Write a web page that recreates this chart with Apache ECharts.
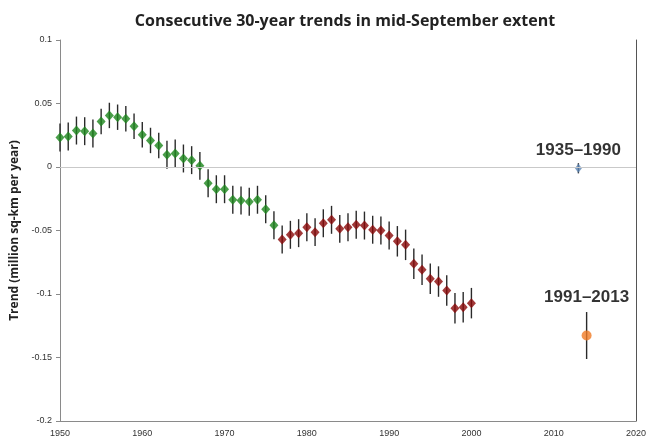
<!DOCTYPE html>
<html>
<head>
<meta charset="utf-8">
<style>
  html, body { margin: 0; padding: 0; background: #fff; }
  #chart { width: 649px; height: 441px; }
</style>
<script src="https://cdn.jsdelivr.net/npm/echarts@6/dist/echarts.min.js"></script>
</head>
<body>
<div id="chart"></div>
<script>
// Start year of each 30-year window and its linear trend (million sq-km per year)
const greenYears = [1950, 1951, 1952, 1953, 1954, 1955, 1956, 1957, 1958, 1959,
                    1960, 1961, 1962, 1963, 1964, 1965, 1966, 1967, 1968, 1969,
                    1970, 1971, 1972, 1973, 1974, 1975, 1976];
const greenTrend = [0.0232, 0.0240, 0.0287, 0.0282, 0.0264, 0.0358, 0.0406, 0.0392, 0.0380, 0.0321,
                    0.0254, 0.0209, 0.0169, 0.0096, 0.0106, 0.0067, 0.0054, 0.0009, -0.0128, -0.0175,
                    -0.0175, -0.0258, -0.0264, -0.0274, -0.0258, -0.0332, -0.0458];
const greenErr   = [0.011, 0.011, 0.011, 0.011, 0.011, 0.010, 0.010, 0.010, 0.010, 0.010,
                    0.010, 0.010, 0.010, 0.011, 0.011, 0.011, 0.011, 0.011, 0.011, 0.011,
                    0.011, 0.011, 0.011, 0.011, 0.011, 0.011, 0.011];

const redYears = [1977, 1978, 1979, 1980, 1981, 1982, 1983, 1984, 1985, 1986,
                  1987, 1988, 1989, 1990, 1991, 1992, 1993, 1994, 1995, 1996,
                  1997, 1998, 1999, 2000];
const redTrend = [-0.0571, -0.0534, -0.0521, -0.0474, -0.0513, -0.0443, -0.0416, -0.0487, -0.0474, -0.0455,
                  -0.0461, -0.0494, -0.0500, -0.0539, -0.0585, -0.0613, -0.0762, -0.0809, -0.0880, -0.0902,
                  -0.0972, -0.1112, -0.1104, -0.1072];
const redErr   = [0.011, 0.011, 0.011, 0.011, 0.011, 0.011, 0.011, 0.011, 0.011, 0.011,
                  0.011, 0.011, 0.011, 0.011, 0.012, 0.012, 0.012, 0.012, 0.012, 0.012,
                  0.012, 0.012, 0.012, 0.012];

// Reference periods
const earlyPeriod = { name: '1935–1990', year: 2013, trend: -0.001, err: 0.004 };
const latePeriod  = { name: '1991–2013', year: 2014, trend: -0.1327, err: 0.0185 };

const xTicks = { min: 1950, max: 2020, step: 10 };
const yTicks = { min: -0.2, max: 0.1, step: 0.05 };

function errorRows(years, trend, err) {
  return years.map((y, i) => [y, trend[i] - err[i], trend[i] + err[i]]);
}
function pointRows(years, trend) {
  return years.map((y, i) => [y, trend[i]]);
}

const errorData = []
  .concat(errorRows(greenYears, greenTrend, greenErr))
  .concat(errorRows(redYears, redTrend, redErr))
  .concat(errorRows([earlyPeriod.year], [earlyPeriod.trend], [earlyPeriod.err]))
  .concat(errorRows([latePeriod.year], [latePeriod.trend], [latePeriod.err]));

function renderErrorBar(params, api) {
  const lo = api.coord([api.value(0), api.value(1)]);
  const hi = api.coord([api.value(0), api.value(2)]);
  return {
    type: 'line',
    shape: { x1: lo[0], y1: lo[1], x2: hi[0], y2: hi[1] },
    style: { stroke: '#2a2a2a', lineWidth: 1.4 }
  };
}

const chart = echarts.init(document.getElementById('chart'), null, { renderer: 'canvas' });

const periodLabel = {
  show: true,
  formatter: p => p.data.name,
  fontFamily: 'Liberation Sans, Arial, sans-serif',
  fontWeight: 'bold',
  fontSize: 17,
  color: '#000'
};

chart.setOption({
  animation: false,
  backgroundColor: '#ffffff',
  title: {
    text: 'Consecutive 30-year trends in mid-September extent',
    left: 340,
    textAlign: 'center',
    top: 8,
    textStyle: {
      fontFamily: 'Open Sans, Liberation Sans, sans-serif',
      fontWeight: 'bold',
      fontSize: 16,
      color: '#222'
    }
  },
  grid: { left: 60, right: 10, top: 40, bottom: 20, containLabel: false },
  xAxis: {
    type: 'value',
    min: xTicks.min,
    max: xTicks.max,
    interval: xTicks.step,
    axisLine: { show: true, onZero: false, lineStyle: { color: '#8a8a8a', width: 1 } },
    axisTick: { show: false },
    splitLine: { show: false },
    axisLabel: {
      fontFamily: 'Liberation Sans, Arial, sans-serif',
      fontSize: 9,
      color: '#333',
      margin: 8,
      formatter: v => String(v)
    }
  },
  yAxis: [{
    type: 'value',
    min: yTicks.min,
    max: yTicks.max,
    interval: yTicks.step,
    name: 'Trend (million sq-km per year)',
    nameLocation: 'middle',
    nameGap: 37,
    nameTextStyle: {
      fontFamily: 'Open Sans, Liberation Sans, sans-serif',
      fontWeight: 'bold',
      fontSize: 12,
      color: '#222'
    },
    axisLine: { show: true, lineStyle: { color: '#8a8a8a', width: 1 } },
    axisTick: { show: true, length: 4, lineStyle: { color: '#8a8a8a' } },
    splitLine: { show: false },
    axisLabel: {
      fontFamily: 'Liberation Sans, Arial, sans-serif',
      fontSize: 9,
      color: '#333',
      margin: 8,
      formatter: v => String(+v.toFixed(2))
    }
  }, {
    type: 'value',
    position: 'right',
    min: yTicks.min,
    max: yTicks.max,
    interval: yTicks.step,
    axisLine: { show: true, lineStyle: { color: '#555', width: 1 } },
    axisTick: { show: false },
    axisLabel: { show: false },
    splitLine: { show: false }
  }],
  series: [
    {
      type: 'custom',
      name: 'errors',
      renderItem: renderErrorBar,
      data: errorData,
      z: 1,
      silent: true,
      markLine: {
        silent: true,
        symbol: 'none',
        label: { show: false },
        lineStyle: { color: '#c9c9c9', width: 1, type: 'solid' },
        data: [{ yAxis: 0 }]
      }
    },
    {
      type: 'scatter',
      name: 'green',
      data: pointRows(greenYears, greenTrend),
      symbol: 'diamond',
      symbolSize: [9, 10],
      itemStyle: { color: '#1c861c' },
      z: 3
    },
    {
      type: 'scatter',
      name: 'red',
      data: pointRows(redYears, redTrend),
      symbol: 'diamond',
      symbolSize: [9, 10],
      itemStyle: { color: '#8a0808' },
      z: 3
    },
    {
      type: 'scatter',
      name: 'early',
      data: [{ name: earlyPeriod.name, value: [earlyPeriod.year, earlyPeriod.trend] }],
      symbol: 'diamond',
      symbolSize: [7, 9],
      itemStyle: { color: '#5b84b5' },
      label: Object.assign({ position: 'top', distance: 5 }, periodLabel),
      z: 3
    },
    {
      type: 'scatter',
      name: 'late',
      data: [{ name: latePeriod.name, value: [latePeriod.year, latePeriod.trend] }],
      symbol: 'circle',
      symbolSize: 10,
      itemStyle: { color: '#f07a24' },
      label: Object.assign({ position: 'top', distance: 25 }, periodLabel),
      z: 3
    }
  ]
});
</script>
</body>
</html>
